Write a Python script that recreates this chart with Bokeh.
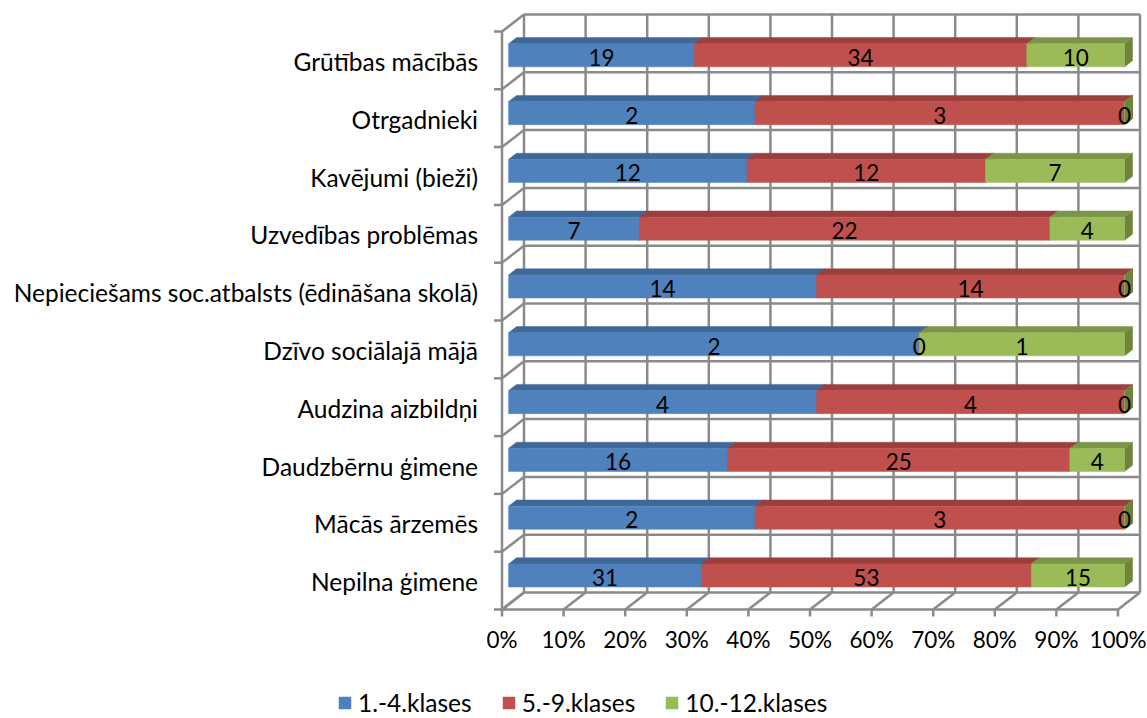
from bokeh.plotting import figure
from bokeh.models import ColumnDataSource, Legend, LegendItem, Range1d
from bokeh.core.properties import value
from bokeh.embed import file_html
from bokeh.resources import INLINE

# ---------------- data ----------------
categories = [
    "Grūtības mācībās",
    "Otrgadnieki",
    "Kavējumi (bieži)",
    "Uzvedības problēmas",
    "Nepieciešams soc.atbalsts (ēdināšana skolā)",
    "Dzīvo sociālajā mājā",
    "Audzina aizbildņi",
    "Daudzbērnu ģimene",
    "Mācās ārzemēs",
    "Nepilna ģimene",
]
kl_1_4 = [19, 2, 12, 7, 14, 2, 4, 16, 2, 31]
kl_5_9 = [34, 3, 12, 22, 14, 0, 4, 25, 3, 53]
kl_10_12 = [10, 0, 7, 4, 0, 1, 0, 4, 0, 15]
series_names = ["1.-4.klases", "5.-9.klases", "10.-12.klases"]
x_ticks = [0, 10, 20, 30, 40, 50, 60, 70, 80, 90, 100]
x_tick_labels = ["0%", "10%", "20%", "30%", "40%", "50%", "60%", "70%", "80%", "90%", "100%"]

# ---------------- styling / geometry ----------------
FRONT = ["#4F81BD", "#C0504D", "#9BBB59"]
TOP = ["#3E6898", "#9B3F3D", "#7A9546"]
SIDE = ["#385D88", "#8A3836", "#6B8539"]
GRID = "#8A8A8A"
FONT = "Lato"
FS_NUM = "22.5px"
FS_TXT = "24.5px"

W, H = 1147, 718
X0, SX = 501.5, 6.16      # canvas px of 0 %, px per %
Y0, SY = 609.0, 57.8      # canvas px of floor front edge, px per category
DX, DY = 22 / SX, 17 / SY  # depth vector in data units
A, B = 0.30, 0.66         # bar front / back depth fractions
BAR_H = 0.4

n = len(categories)
series = [kl_1_4, kl_5_9, kl_10_12]

p = figure(width=W, height=H, output_backend="svg", toolbar_location=None,
           x_axis_location=None, y_axis_location=None,
           x_range=Range1d(-X0 / SX, (W - X0) / SX),
           y_range=Range1d(-(H - Y0) / SY, Y0 / SY),
           min_border=0, outline_line_color=None)
p.grid.visible = False
p.background_fill_color = "white"

# ---------------- walls / floor ----------------
gx, gy = [], []
for t in x_ticks:  # back wall verticals
    gx.append([t + DX, t + DX]); gy.append([DY, n + DY])
for k in range(n + 1):  # back wall horizontals, left wall slants, stubs
    gx.append([DX, 100 + DX]); gy.append([k + DY, k + DY])
    gx.append([0, DX]); gy.append([k, k + DY])
    gx.append([-8 / SX, 0]); gy.append([k, k])
gx.append([0, 0]); gy.append([0, n])  # left wall front edge
gx.append([0, 100]); gy.append([0, 0])  # floor front edge
for t in x_ticks:
    gx.append([t, t + DX]); gy.append([0, DY])
    gx.append([t, t]); gy.append([0, -7 / SY])
p.multi_line(gx, gy, line_color=GRID, line_width=2.5)

# ---------------- bars ----------------
totals = [sum(s[i] for s in series) for i in range(n)]
segs = []
for j, s in enumerate(series):
    L, R, BOT, TOPY, ROW = [], [], [], [], []
    for i in range(n):
        row = n - 1 - i
        start = sum(series[q][i] for q in range(j)) / totals[i] * 100
        end = start + s[i] / totals[i] * 100
        L.append(start); R.append(end); ROW.append(row)
        BOT.append(row + 0.5 - BAR_H / 2 + A * DY)
        TOPY.append(row + 0.5 + BAR_H / 2 + A * DY)
    segs.append((L, R, BOT, TOPY, ROW))

dd = (B - A)
for j in range(3):  # side faces
    L, R, BOT, TOPY, ROW = segs[j]
    xs = [[r + A * DX, r + A * DX, r + B * DX, r + B * DX] for r in R]
    ys = [[b, t, t + dd * DY, b + dd * DY] for b, t in zip(BOT, TOPY)]
    p.patches(xs, ys, fill_color=SIDE[j], line_color=SIDE[j], line_width=0.5)
for j in range(3):  # top faces
    L, R, BOT, TOPY, ROW = segs[j]
    xs = [[l + A * DX, r + A * DX, r + B * DX, l + B * DX] for l, r in zip(L, R)]
    ys = [[t, t, t + dd * DY, t + dd * DY] for t in TOPY]
    p.patches(xs, ys, fill_color=TOP[j], line_color=TOP[j], line_width=0.5)
front_r = []
for j in range(3):  # front faces
    L, R, BOT, TOPY, ROW = segs[j]
    src = ColumnDataSource(dict(left=[l + A * DX for l in L], right=[r + A * DX for r in R],
                                bottom=BOT, top=TOPY))
    r = p.quad(left="left", right="right", bottom="bottom", top="top", source=src,
               fill_color=FRONT[j], line_color=FRONT[j], line_width=0.5)
    front_r.append(r)

# data labels
lx, ly, lt = [], [], []
for j in range(3):
    L, R, BOT, TOPY, ROW = segs[j]
    for i in range(n):
        lx.append((L[i] + R[i]) / 2 + A * DX)
        ly.append(ROW[i] + 0.5 + A * DY)
        lt.append(str(series[j][i]))
p.text(lx, ly, text=lt, text_align="center", text_baseline="middle", y_offset=2,
       text_font=value(FONT), text_font_size=FS_NUM, text_color="#000000")

# category labels
p.text([-24 / SX] * n, [n - 1 - i + 0.5 for i in range(n)], text=categories,
       text_align="right", text_baseline="middle", y_offset=1,
       text_font=value(FONT), text_font_size=FS_TXT, text_color="#000000")

# x tick labels
p.text(x_ticks, [-30 / SY] * len(x_ticks), text=x_tick_labels,
       text_align="center", text_baseline="middle",
       text_font=value(FONT), text_font_size=FS_NUM, text_color="#000000")

legend = Legend(items=[LegendItem(label=series_names[j], renderers=[front_r[j]]) for j in range(3)],
                orientation="horizontal", location=(337, 1),
                glyph_width=15, glyph_height=15, label_standoff=6, spacing=29,
                padding=0, margin=0, border_line_color=None, background_fill_alpha=0,
                label_text_font=FONT, label_text_font_size=FS_TXT, label_text_color="#000000")
p.add_layout(legend, "center")

open("out.html", "w").write(file_html(p, INLINE))
